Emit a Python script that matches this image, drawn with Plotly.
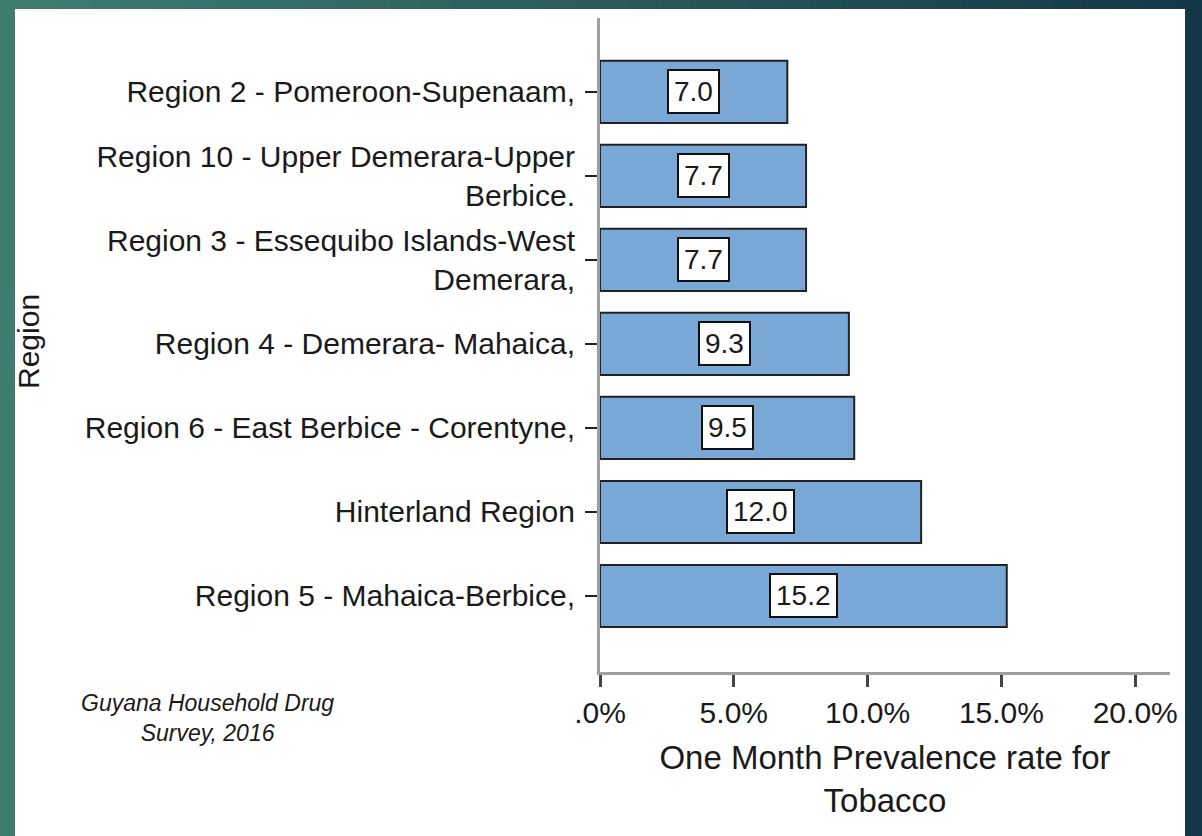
import plotly.graph_objects as go

# ---- data ----
regions = [
    "Region 2 - Pomeroon-Supenaam,",
    "Region 10 - Upper Demerara-Upper<br>Berbice.",
    "Region 3 - Essequibo Islands-West<br>Demerara,",
    "Region 4 - Demerara- Mahaica,",
    "Region 6 - East Berbice - Corentyne,",
    "Hinterland Region",
    "Region 5 - Mahaica-Berbice,",
]
values = [7.0, 7.7, 7.7, 9.3, 9.5, 12.0, 15.2]
x_tick_vals = [0, 5, 10, 15, 20]
x_tick_text = [".0%", "5.0%", "10.0%", "15.0%", "20.0%"]
x_title = "One Month Prevalence rate for<br>Tobacco"
y_title = "Region"
source_text = "<i>Guyana Household Drug<br>Survey, 2016</i>"

# ---- layout geometry (pixels) ----
W, H = 1202, 836
L, R, T, B = 600, 32, 18, 164
PW, PH = W - L - R, H - T - B
FONT = "Liberation Sans, Arial, sans-serif"
TXT = "#1a1a1a"


def px(xp):
    return (xp - L) / PW


def py(yp):
    return (H - B - yp) / PH


fig = go.Figure()
fig.add_trace(go.Bar(
    y=regions, x=values, orientation="h",
    width=0.74,
    marker=dict(color="#79a8d6", line=dict(color="#222222", width=2)),
    hoverinfo="x+y",
))

# value boxes centred in each bar
annotations = []
for reg, v in zip(regions, values):
    annotations.append(dict(
        x=v / 2, y=reg, xref="x", yref="y", text=f"{v:.1f}",
        showarrow=False, bgcolor="white", bordercolor="#111111", borderwidth=2,
        borderpad=5, font=dict(family=FONT, size=28, color=TXT),
    ))

annotations.append(dict(
    x=px(28), y=py(342), xref="paper", yref="paper", text=y_title, textangle=-90,
    showarrow=False, font=dict(family=FONT, size=30, color=TXT),
    xanchor="center", yanchor="middle",
))
annotations.append(dict(
    x=px(207), y=py(718), xref="paper", yref="paper", text=source_text,
    showarrow=False, font=dict(family=FONT, size=23, color=TXT),
    xanchor="center", yanchor="middle", align="center",
))

# background gradient + white panel
shapes = []
N = 40
c0 = (63, 125, 114)
c1 = (20, 56, 72)
for i in range(N):
    t = i / (N - 1)
    col = "rgb(%d,%d,%d)" % tuple(round(a + (b - a) * t) for a, b in zip(c0, c1))
    shapes.append(dict(
        type="rect", xref="paper", yref="paper", layer="below",
        x0=px(i * W / N), x1=px((i + 1) * W / N + 1), y0=py(H + 2), y1=py(-2),
        line=dict(width=0), fillcolor=col,
    ))
shapes.append(dict(
    type="rect", xref="paper", yref="paper", layer="below",
    x0=px(15), x1=px(1185), y0=py(H + 2), y1=py(9),
    line=dict(width=0), fillcolor="white",
))

fig.update_layout(
    width=W, height=H,
    margin=dict(l=L, r=R, t=T, b=B, autoexpand=False),
    paper_bgcolor="rgb(40,90,95)",
    plot_bgcolor="rgba(0,0,0,0)",
    showlegend=False,
    bargap=0.26,
    font=dict(family=FONT, color=TXT),
    annotations=annotations,
    shapes=shapes,
    xaxis=dict(
        range=[0, 21.3], tickvals=x_tick_vals, ticktext=x_tick_text,
        showgrid=False, zeroline=False,
        showline=True, linecolor="#a0a0a0", linewidth=3,
        ticks="outside", ticklen=12, tickwidth=3, tickcolor="#444444",
        tickfont=dict(family=FONT, size=30, color=TXT),
        title=dict(text=x_title, font=dict(family=FONT, size=33, color=TXT), standoff=18),
        automargin=False,
    ),
    yaxis=dict(
        type="category", categoryorder="array", categoryarray=regions,
        range=[6.905, -0.88],
        showgrid=False, zeroline=False,
        showline=True, linecolor="#a0a0a0", linewidth=3,
        ticks="outside", ticklen=12, tickwidth=2, tickcolor="#222222",
        tickfont=dict(family=FONT, size=30, color=TXT),
        ticklabelstandoff=4,
        automargin=False,
    ),
)

fig.write_html(
    "out.html",
    config={"displayModeBar": False},
    post_script="document.body.style.margin='0';document.body.style.overflow='hidden';",
)
